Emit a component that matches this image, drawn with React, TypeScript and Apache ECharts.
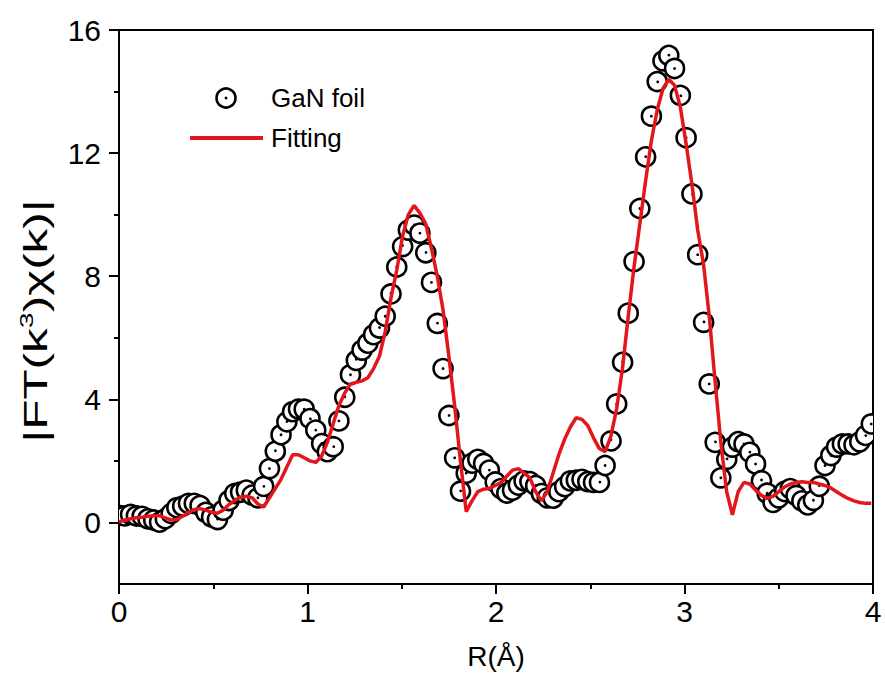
import React, { useEffect, useRef } from "react";
import * as echarts from "echarts";

// Sampling grid of the Fourier transform (Å per point)
const R_STEP = 0.0307;

// |FT(k^3 chi(k))| of GaN foil (experimental, circles)
const ganFoil = [
  0.23, 0.25, 0.26, 0.24, 0.2, 0.15, 0.08, 0.04, 0.12, 0.32,
  0.48, 0.56, 0.62, 0.62, 0.55, 0.36, 0.18, 0.13, 0.4, 0.75,
  0.94, 1.02, 1.05, 0.92, 0.8, 1.2, 1.75, 2.35, 2.85, 3.3,
  3.6, 3.72, 3.68, 3.4, 3.0, 2.6, 2.3, 2.5, 3.3, 4.1,
  4.8, 5.3, 5.6, 5.85, 6.1, 6.35, 6.7, 7.45, 8.3, 9.0,
  9.5, 9.7, 9.4, 8.8, 7.8, 6.5, 5.0, 3.5, 2.1, 1.05,
  1.6, 1.95, 2.05, 1.95, 1.7, 1.35, 1.1, 1.0, 1.05, 1.25,
  1.35, 1.35, 1.2, 0.95, 0.8, 0.82, 1.0, 1.2, 1.35, 1.42,
  1.4, 1.35, 1.3, 1.35, 1.85, 2.7, 3.85, 5.25, 6.8, 8.5,
  10.2, 11.9, 13.2, 14.35, 15.0, 15.2, 14.75, 13.9, 12.5, 10.7,
  8.7, 6.55, 4.5, 2.65, 1.45, 2.1, 2.45, 2.65, 2.55, 2.3,
  1.9, 1.4, 0.95, 0.7, 0.8, 1.05, 1.1, 0.9, 0.7, 0.62,
  0.72, 1.2, 1.85, 2.2, 2.45, 2.55, 2.55, 2.55, 2.62, 2.85,
  3.2,
];

// Fitting curve
const fitting = [
  0.02, 0.08, 0.12, 0.15, 0.17, 0.2, 0.22, 0.22, 0.15, 0.08,
  0.1, 0.2, 0.32, 0.42, 0.45, 0.4, 0.33, 0.3, 0.4, 0.58,
  0.72, 0.82, 0.85, 0.8, 0.6, 0.5, 0.8, 1.1, 1.4, 1.8,
  2.2, 2.2, 2.1, 2.0, 1.95, 2.15, 2.6, 3.2, 3.8, 4.2,
  4.5, 4.55, 4.6, 4.7, 5.0, 5.4, 6.2, 7.3, 8.2, 9.3,
  10.0, 10.3, 10.05, 9.7, 8.9, 8.0, 6.9, 5.4, 3.8, 2.0,
  0.35, 0.7, 1.0, 1.08, 1.1, 1.2, 1.3, 1.5, 1.7, 1.75,
  1.6, 1.45, 1.0, 0.7, 1.0, 1.6, 2.2, 2.7, 3.1, 3.4,
  3.35, 3.15, 2.75, 2.4, 2.3, 2.8, 3.7, 5.0, 6.7, 8.3,
  9.7, 11.1, 12.4, 13.4, 14.1, 14.4, 14.2, 13.5, 12.3, 11.0,
  9.5, 8.4, 6.7, 4.6, 2.6, 1.0, 0.25, 1.0, 1.3, 1.25,
  1.05, 0.88, 0.78, 0.85, 1.0, 1.15, 1.25, 1.3, 1.32, 1.3,
  1.3, 1.25, 1.2, 1.12, 1.0, 0.88, 0.78, 0.7, 0.65, 0.62,
  0.62,
];

const yMajorTicks = [0, 4, 8, 12, 16];
const yMinorTicks = [2, 6, 10, 14];

const FONT = "'Liberation Sans', Arial, sans-serif";
const RED = "#e3161b";

export default function App() {
  const ref = useRef<HTMLDivElement>(null);

  useEffect(() => {
    if (!ref.current) return;
    const chart = echarts.init(ref.current, undefined, { renderer: "svg" });

    const ganData = ganFoil.map((v, i) => [i * R_STEP, v]);
    const fitData = fitting.map((v, i) => [i * R_STEP, v]);

    const option: any = {
      animation: false,
      backgroundColor: "#fff",
      textStyle: { fontFamily: FONT },
      grid: {
        left: 119,
        right: 12,
        top: 30,
        bottom: 97,
        show: true,
        borderColor: "#000",
        borderWidth: 2,
      },
      xAxis: {
        type: "value",
        min: 0,
        max: 4,
        interval: 1,
        name: "R(Å)",
        nameLocation: "middle",
        nameGap: 58,
        nameTextStyle: { fontSize: 28, color: "#000", fontFamily: FONT },
        axisLine: { show: true, onZero: false, lineStyle: { color: "#000", width: 2 } },
        axisTick: { show: true, inside: false, length: 10, lineStyle: { color: "#000", width: 2 } },
        minorTick: { show: true, splitNumber: 2, length: 5, lineStyle: { color: "#000", width: 2 } },
        axisLabel: { fontSize: 30, color: "#000", margin: 12, fontFamily: FONT },
        splitLine: { show: false },
        minorSplitLine: { show: false },
      },
      yAxis: [
        {
          type: "value",
          min: -2,
          max: 16,
          axisLine: { show: true, onZero: false, lineStyle: { color: "#000", width: 2 } },
          axisTick: {
            show: true,
            inside: false,
            length: 10,
            customValues: yMajorTicks,
            lineStyle: { color: "#000", width: 2 },
          },
          axisLabel: {
            fontSize: 30,
            color: "#000",
            margin: 18,
            fontFamily: FONT,
            customValues: yMajorTicks,
          },
          splitLine: { show: false },
        },
        {
          type: "value",
          min: -2,
          max: 16,
          position: "left",
          axisLine: { show: false, onZero: false },
          axisTick: {
            show: true,
            inside: false,
            length: 5,
            customValues: yMinorTicks,
            lineStyle: { color: "#000", width: 2 },
          },
          axisLabel: { show: false },
          splitLine: { show: false },
        },
      ],
      graphic: [
        {
          type: "text",
          x: 36,
          y: 321,
          rotation: Math.PI / 2,
          scaleX: 1.5,
          scaleY: 1,
          style: {
            text: "{t||FT(k}{s|3}{t|)χ(k)|}",
            align: "center",
            verticalAlign: "middle",
            fill: "#000",
            fontFamily: FONT,
            rich: {
              t: { fontSize: 33, lineHeight: 38, fill: "#000", fontFamily: FONT },
              s: { fontSize: 19, lineHeight: 19, verticalAlign: "top", fill: "#000", fontFamily: FONT },
            },
          },
        },
        {
          type: "circle",
          shape: { cx: 226, cy: 98, r: 9.5 },
          style: { fill: "#fff", stroke: "#000", lineWidth: 2.6 },
        },
        {
          type: "circle",
          shape: { cx: 226, cy: 98, r: 1.4 },
          style: { fill: "#000" },
        },
        {
          type: "text",
          x: 271,
          y: 98,
          style: {
            text: "GaN foil",
            fontSize: 26,
            fontFamily: FONT,
            fill: "#000",
            verticalAlign: "middle",
            align: "left",
          },
        },
        {
          type: "line",
          shape: { x1: 190, y1: 138, x2: 263, y2: 138 },
          style: { stroke: RED, lineWidth: 4 },
        },
        {
          type: "text",
          x: 271,
          y: 138,
          style: {
            text: "Fitting",
            fontSize: 26,
            fontFamily: FONT,
            fill: "#000",
            verticalAlign: "middle",
            align: "left",
          },
        },
      ],
      series: [
        {
          name: "GaN foil",
          type: "custom",
          clip: true,
          data: ganData,
          encode: { x: 0, y: 1 },
          z: 2,
          renderItem: (params: any, api: any) => {
            const p = api.coord([api.value(0), api.value(1)]);
            return {
              type: "group",
              children: [
                {
                  type: "circle",
                  shape: { cx: p[0], cy: p[1], r: 9.5 },
                  style: { fill: "#fff", stroke: "#000", lineWidth: 2.6 },
                },
                {
                  type: "circle",
                  shape: { cx: p[0], cy: p[1], r: 1.4 },
                  style: { fill: "#000" },
                },
              ],
            };
          },
        },
        {
          name: "Fitting",
          type: "line",
          data: fitData,
          showSymbol: false,
          symbol: "none",
          smooth: false,
          z: 5,
          lineStyle: { color: RED, width: 3.5 },
          itemStyle: { color: RED },
        },
      ],
    };

    chart.setOption(option);
    return () => chart.dispose();
  }, []);

  return (
    <div
      ref={ref}
      style={{ position: "fixed", left: 0, top: 0, width: 885, height: 681, background: "#fff" }}
    />
  );
}
